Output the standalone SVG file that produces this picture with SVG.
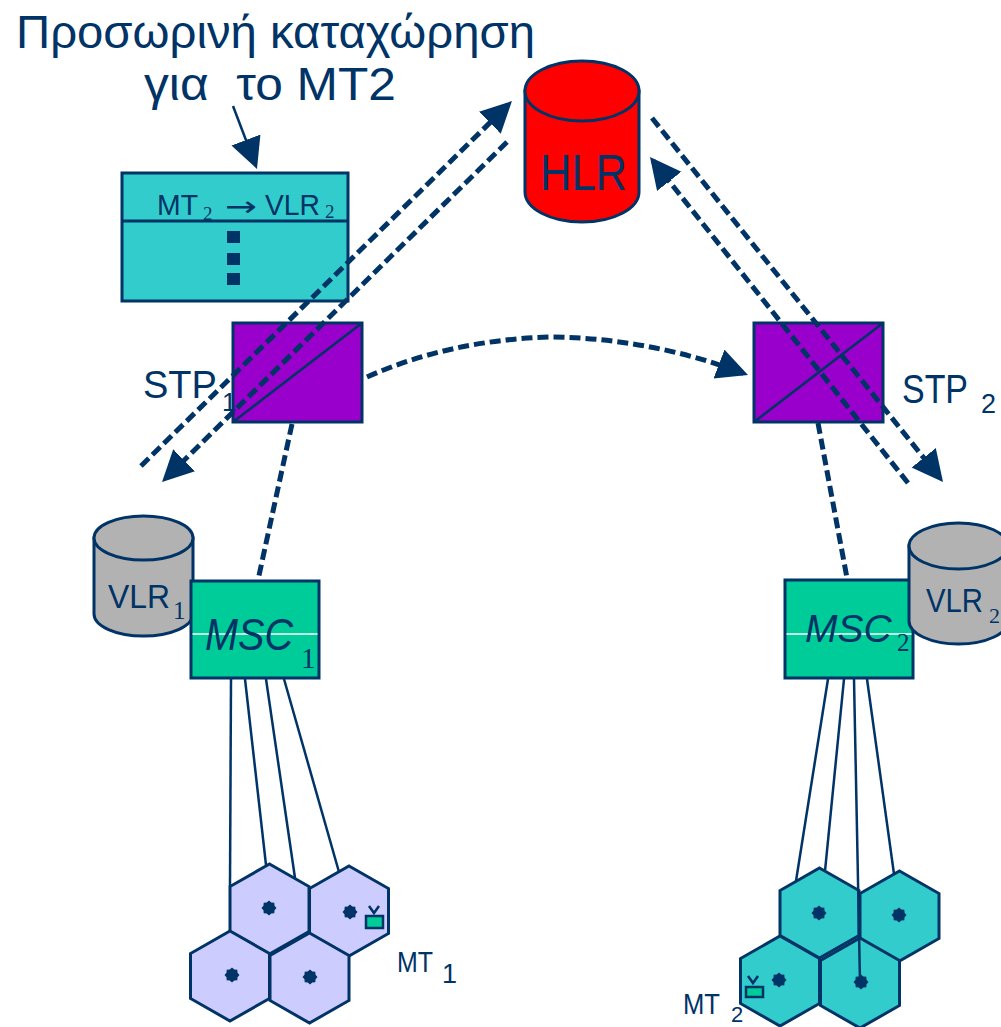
<svg xmlns="http://www.w3.org/2000/svg" width="1001" height="1027" viewBox="0 0 1001 1027">
<style>
.txt{font-family:"Liberation Sans","DejaVu Sans",sans-serif;fill:#003366}
.ser{font-family:"Liberation Serif","DejaVu Serif",serif;fill:#003366}
.sym{font-family:"DejaVu Sans",sans-serif;fill:#003366}
.box{stroke:#003366;stroke-width:3}
.dash{fill:none;stroke:#003366;stroke-width:5;stroke-dasharray:11 5}
.thin{fill:none;stroke:#003366;stroke-width:2.5}
.hex1{fill:#CCCCFF;stroke:#003366;stroke-width:3}
.hex2{fill:#33CCCC;stroke:#003366;stroke-width:3}
.dot{fill:#003366}
</style>
<defs>
<marker id="ah" markerUnits="userSpaceOnUse" markerWidth="32" markerHeight="32" refX="26" refY="15.5" orient="auto">
<path d="M0,0 L31,15.5 L0,31 Z" fill="#003366"/>
</marker>
<path id="hex" d="M0,-45 L39.5,-22.5 L39.5,22.5 L0,45 L-39.5,22.5 L-39.5,-22.5 Z"/>
<polygon id="dotp" points="7.5,0 5.54,2.3 5.3,5.3 2.3,5.54 0,7.5 -2.3,5.54 -5.3,5.3 -5.54,2.3 -7.5,0 -5.54,-2.3 -5.3,-5.3 -2.3,-5.54 0,-7.5 2.3,-5.54 5.3,-5.3 5.54,-2.3"/>
</defs>
<rect width="1001" height="1027" fill="#FFFFFF"/>

<g id="title">
<text class="txt" x="16" y="48" font-size="46" textLength="519" lengthAdjust="spacingAndGlyphs">Προσωρινή καταχώρηση</text>
<text class="txt" x="144" y="100" font-size="46" textLength="252" lengthAdjust="spacingAndGlyphs" xml:space="preserve">για  το MT2</text>
</g>

<g id="table">
<rect x="122" y="173" width="226" height="128" fill="#33CCCC" class="box"/>
<line x1="122" y1="221" x2="348" y2="221" class="box"/>
<text class="txt" x="157" y="215" font-size="30" textLength="41" lengthAdjust="spacingAndGlyphs">MT</text>
<text class="ser" x="203" y="220" font-size="19">2</text>
<text class="sym" x="225" y="216" font-size="28" textLength="32" lengthAdjust="spacingAndGlyphs">→</text>
<text class="txt" x="265" y="215" font-size="30" textLength="55" lengthAdjust="spacingAndGlyphs">VLR</text>
<text class="ser" x="325" y="218" font-size="19">2</text>
<rect x="227" y="231" width="13" height="12" fill="#003366"/>
<rect x="227" y="253" width="13" height="12" fill="#003366"/>
<rect x="227" y="273" width="13" height="12" fill="#003366"/>
</g>

<g id="hlr">
<path d="M525,91 L525,192 A57,30 0 0 0 639,192 L639,91 Z" fill="#FF0000" class="box"/>
<ellipse cx="582" cy="91" rx="57" ry="30" fill="#FF0000" class="box"/>
<text class="txt" x="540" y="190" font-size="50" textLength="87" lengthAdjust="spacingAndGlyphs">HLR</text>
</g>

<g id="stp1">
<rect x="233" y="323" width="129" height="99" fill="#9900CC" class="box" stroke-width="2.5"/>
<line x1="233" y1="422" x2="362" y2="323" class="thin"/>
<text class="txt" x="143" y="398" font-size="38">STP</text>
<text class="txt" x="222" y="411" font-size="26">1</text>
</g>

<g id="stp2">
<rect x="754" y="323" width="129" height="99" fill="#9900CC" class="box" stroke-width="2.5"/>
<line x1="754" y1="422" x2="883" y2="323" class="thin"/>
<text class="txt" x="902" y="403" font-size="40" textLength="66" lengthAdjust="spacingAndGlyphs">STP</text>
<text class="txt" x="981" y="413" font-size="27">2</text>
</g>

<g id="vlr1">
<path d="M94,538 L94,614 A49.5,22 0 0 0 193,614 L193,538 Z" fill="#B2B2B2" class="box"/>
<ellipse cx="143.5" cy="538" rx="49.5" ry="22" fill="#B2B2B2" class="box"/>
<text class="txt" x="108" y="608" font-size="33" textLength="62" lengthAdjust="spacingAndGlyphs">VLR</text>
<text class="ser" x="173" y="619" font-size="25">1</text>
</g>

<g id="msc1">
<rect x="191" y="581" width="128" height="97" fill="#00CC99" class="box"/>
<line x1="192.5" y1="634" x2="317.5" y2="634" stroke="#FFFFFF" stroke-width="1.5"/>
<text class="txt" x="205" y="650" font-size="44" font-style="italic" textLength="88" lengthAdjust="spacingAndGlyphs">MSC</text>
<text class="ser" x="301" y="668" font-size="29">1</text>
</g>

<g id="msc2">
<rect x="785" y="580" width="128" height="98" fill="#00CC99" class="box"/>
<line x1="786.5" y1="634" x2="911.5" y2="634" stroke="#FFFFFF" stroke-width="1.5"/>
<text class="txt" x="805" y="642" font-size="39" font-style="italic">MSC</text>
<text class="ser" x="897" y="651" font-size="25">2</text>
</g>

<g id="vlr2">
<path d="M909,546 L909,621 A49.5,23 0 0 0 1008,621 L1008,546 Z" fill="#B2B2B2" class="box"/>
<ellipse cx="958.5" cy="546" rx="49.5" ry="23" fill="#B2B2B2" class="box"/>
<text class="txt" x="926" y="612" font-size="33" textLength="57" lengthAdjust="spacingAndGlyphs">VLR</text>
<text class="ser" x="989" y="623" font-size="22">2</text>
</g>

<g id="cells1">
<use href="#hex" x="269.5" y="909" class="hex1"/>
<use href="#hex" x="349" y="911" class="hex1"/>
<use href="#hex" x="230" y="976" class="hex1"/>
<use href="#hex" x="309.5" y="978" class="hex1"/>
<use href="#dotp" x="269" y="908" class="dot"/>
<use href="#dotp" x="350" y="912" class="dot"/>
<use href="#dotp" x="232" y="975" class="dot"/>
<use href="#dotp" x="310" y="977" class="dot"/>
</g>

<g id="mt1">
<polyline points="369,906 374,913 379,906" class="thin" stroke-width="2"/>
<rect x="366" y="916" width="17" height="12" fill="#00CC99" stroke="#003366" stroke-width="2.5"/>
<text class="txt" x="397" y="972" font-size="29" textLength="36" lengthAdjust="spacingAndGlyphs">MT</text>
<text class="txt" x="442" y="983" font-size="27">1</text>
</g>

<g id="cells2">
<use href="#hex" x="819.5" y="913" class="hex2"/>
<use href="#hex" x="899.5" y="916" class="hex2"/>
<use href="#hex" x="780" y="981" class="hex2"/>
<use href="#hex" x="860" y="983" class="hex2"/>
<use href="#dotp" x="819" y="913" class="dot"/>
<use href="#dotp" x="899" y="915" class="dot"/>
<use href="#dotp" x="779" y="980" class="dot"/>
<use href="#dotp" x="861" y="982" class="dot"/>
</g>

<g id="mt2">
<polyline points="748,976 753,983 758,976" class="thin" stroke-width="2"/>
<rect x="746" y="987" width="17" height="10" fill="#00CC99" stroke="#003366" stroke-width="2.5"/>
<text class="txt" x="683" y="1014" font-size="29" textLength="37" lengthAdjust="spacingAndGlyphs">MT</text>
<text class="txt" x="731" y="1022" font-size="22">2</text>
</g>

<g id="connectors">
<line x1="233" y1="106" x2="255.2" y2="164.3" class="thin" marker-end="url(#ah)"/>
<line x1="141" y1="466" x2="508.4" y2="104.5" class="dash" marker-end="url(#ah)"/>
<line x1="507" y1="142" x2="165.6" y2="478.5" class="dash" marker-end="url(#ah)"/>
<line x1="652" y1="118" x2="939.9" y2="478.1" class="dash" marker-end="url(#ah)"/>
<line x1="908" y1="483" x2="653.1" y2="160.9" class="dash" marker-end="url(#ah)"/>
<path d="M367,377 Q450,340 550,337 Q650,338 743.3,373.3" class="dash" marker-end="url(#ah)"/>
<line x1="292" y1="424" x2="258" y2="580" class="dash"/>
<line x1="818" y1="423" x2="847" y2="578" class="dash"/>
<line x1="231" y1="679" x2="230" y2="886" class="thin"/>
<line x1="245" y1="679" x2="266" y2="865" class="thin"/>
<line x1="266" y1="679" x2="295" y2="878" class="thin"/>
<line x1="284" y1="679" x2="339" y2="872" class="thin"/>
<line x1="828" y1="679" x2="796" y2="881" class="thin"/>
<line x1="844" y1="679" x2="825" y2="871" class="thin"/>
<line x1="854" y1="679" x2="860" y2="982" class="thin"/>
<line x1="867" y1="679" x2="894" y2="874" class="thin"/>
</g>
</svg>
